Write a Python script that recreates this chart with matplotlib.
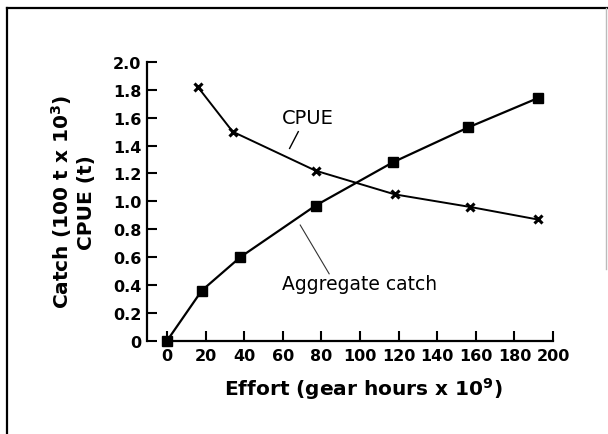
import matplotlib.pyplot as plt
from matplotlib.lines import Line2D
import numpy as np

# data
catch_effort = [0, 18, 38, 77, 117, 156, 192]
catch_vals = [0.0, 0.36, 0.60, 0.97, 1.28, 1.53, 1.74]
cpue_effort = [16, 34, 77, 118, 157, 192]
cpue_vals = [1.82, 1.50, 1.22, 1.05, 0.96, 0.87]
x_ticks = list(range(0, 201, 20))
y_ticks = [0, 0.2, 0.4, 0.6, 0.8, 1.0, 1.2, 1.4, 1.6, 1.8, 2.0]
y_ticklabels = ['0', '0.2', '0.4', '0.6', '0.8', '1.0', '1.2', '1.4', '1.6', '1.8', '2.0']

plt.rcParams['font.family'] = 'DejaVu Sans'
plt.rcParams['mathtext.default'] = 'regular'

fig = plt.figure(figsize=(6.08, 4.35), dpi=100)
ax = fig.add_axes([147 / 608, 1 - 341.7 / 435, (553 - 147) / 608, (341.7 - 63) / 435])

# catch line with filled squares
ax.plot(catch_effort, catch_vals, color='black', linewidth=1.6, marker='s',
        markersize=7.5, markerfacecolor='black', markeredgecolor='black',
        clip_on=False, zorder=3)
# cpue line with crosses
ax.plot(cpue_effort, cpue_vals, color='black', linewidth=1.4, marker='x',
        markersize=5.5, markeredgewidth=2.2, clip_on=False, zorder=3)

# labels on the curves
ax.text(73, 1.60, 'CPUE', fontsize=14, ha='center', va='center')
ax.plot([68, 63.5], [1.50, 1.38], color='black', linewidth=1.0)
ax.text(100, 0.41, 'Aggregate catch', fontsize=13.5, ha='center', va='center')
ax.plot([69, 84], [0.83, 0.48], color='#333333', linewidth=0.8)

ax.set_xlim(-10.4, 200)
ax.set_ylim(0, 2.0)
ax.set_xticks(x_ticks)
ax.set_xticklabels([str(t) for t in x_ticks], fontsize=11.5, fontweight='bold')
ax.set_yticks(y_ticks)
ax.set_yticklabels(y_ticklabels, fontsize=11.5, fontweight='bold')
ax.tick_params(axis='both', direction='in', length=7, width=1.5, colors='black')
ax.tick_params(axis='x', pad=5)
ax.tick_params(axis='y', pad=4)

for s in ['top', 'right']:
    ax.spines[s].set_visible(False)
ax.spines['bottom'].set_bounds(0, 200)
ax.spines['bottom'].set_linewidth(1.6)
ax.spines['left'].set_linewidth(1.6)

ax.set_xlabel('Effort (gear hours x 10$^9$)', fontsize=14.5, fontweight='bold')
ax.set_ylabel('Catch (100 t x 10$^3$)\nCPUE (t)', fontsize=14.5, fontweight='bold',
              linespacing=1.25)
ax.xaxis.set_label_coords(0.532, -0.125)
ax.yaxis.set_label_coords(-0.125, 0.5)

# scanned page frame
fig.add_artist(Line2D([7 / 608, 7 / 608], [0, 1 - 9 / 435], color='black', linewidth=1.6))
fig.add_artist(Line2D([7 / 608, 1], [1 - 9 / 435, 1 - 9 / 435], color='black', linewidth=1.6))
fig.add_artist(Line2D([606 / 608, 606 / 608], [1 - 270 / 435, 1 - 9 / 435],
                      color='#bbbbbb', linewidth=1.0))

fig.savefig('out.png', dpi=100)
